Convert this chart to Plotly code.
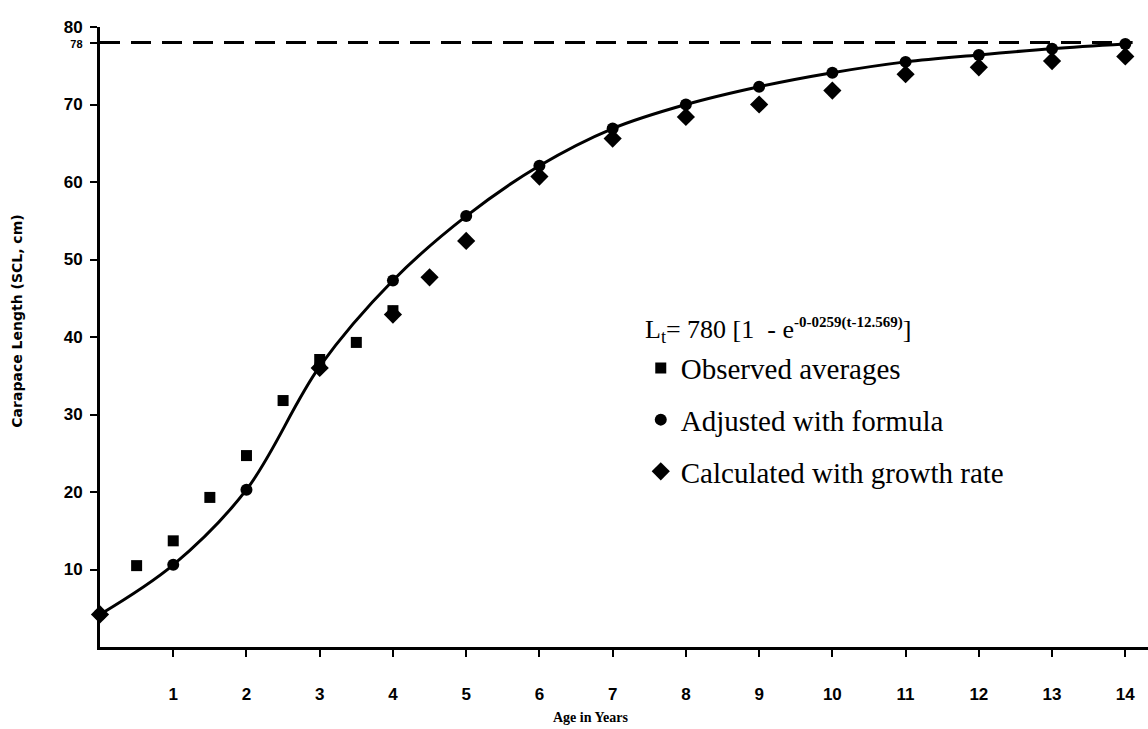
import plotly.graph_objects as go

# Age (years) and carapace length (SCL, cm)
age_obs = [0.5, 1, 1.5, 2, 2.5, 3, 3.5, 4]
len_obs = [10.5, 13.7, 19.3, 24.7, 31.8, 37.1, 39.3, 43.4]

age_fit = [0, 1, 2, 3, 4, 5, 6, 7, 8, 9, 10, 11, 12, 13, 14]
len_fit = [4.2, 10.6, 20.3, 36.2, 47.3, 55.6, 62.1, 66.9, 70.0, 72.3, 74.1, 75.5, 76.4, 77.2, 77.8]

age_calc = [0, 3, 4, 4.5, 5, 6, 7, 8, 9, 10, 11, 12, 13, 14]
len_calc = [4.2, 36.0, 42.9, 47.7, 52.4, 60.7, 65.6, 68.4, 70.0, 71.8, 73.9, 74.8, 75.6, 76.2]

# Asymptotic length L-infinity (cm) and the span it is drawn over
l_inf = 78
asym_span = [0, 14.1]

x_ticks = list(range(1, 15))
y_ticks = [10, 20, 30, 40, 50, 60, 70, 78, 80]
y_ticktext = ["10", "20", "30", "40", "50", "60", "70",
              "<span style='font-size:11px'>78</span>", "80"]

growth_formula = ("L<sub>t</sub>= 780 [1  - e<sup><b><span style='font-size:15px'>"
                  "-0-0259(t-12.569)</span></b></sup>]")

fig = go.Figure()

# von Bertalanffy curve through the fitted lengths
fig.add_trace(go.Scatter(
    x=age_fit, y=len_fit, mode="lines", line=dict(color="black", width=3, shape="spline"),
    showlegend=False, hoverinfo="skip", cliponaxis=False))

# asymptote
fig.add_trace(go.Scatter(
    x=asym_span, y=[l_inf, l_inf], mode="lines",
    line=dict(color="black", width=3, dash="20px,11px"),
    showlegend=False, hoverinfo="skip", cliponaxis=False))

fig.add_trace(go.Scatter(
    x=age_obs, y=len_obs, mode="markers", name="Observed averages",
    legendgroup="a",
    marker=dict(symbol="square", size=11, color="black"), cliponaxis=False))
fig.add_trace(go.Scatter(
    x=age_fit, y=len_fit, mode="markers", name="Adjusted with formula",
    legendgroup="b",
    marker=dict(symbol="circle", size=12, color="black"), cliponaxis=False))
fig.add_trace(go.Scatter(
    x=age_calc, y=len_calc, mode="markers", name="Calculated with growth rate",
    legendgroup="c",
    marker=dict(symbol="diamond", size=14, color="black"), cliponaxis=False))

tick_font = dict(family="Liberation Sans", size=17, color="black", weight="bold")

fig.update_layout(
    width=1148, height=729,
    margin=dict(l=100, r=0, t=27, b=82),
    paper_bgcolor="white", plot_bgcolor="white",
    showlegend=True,
    legend=dict(
        x=0.516, y=0.491, xanchor="left", yanchor="top",
        bgcolor="rgba(0,0,0,0)", traceorder="grouped", tracegroupgap=11,
        font=dict(family="Liberation Serif", size=29, color="black"),
    ),
    xaxis=dict(
        range=[0, 14.31], showgrid=False, zeroline=False,
        showline=True, linecolor="black", linewidth=3,
        ticks="outside", ticklen=7, tickwidth=2, tickcolor="black",
        tickvals=x_ticks, ticktext=[str(v) for v in x_ticks],
        tickfont=tick_font, ticklabelstandoff=23,
    ),
    yaxis=dict(
        range=[0, 80], showgrid=False, zeroline=False,
        showline=True, linecolor="black", linewidth=3,
        ticks="outside", ticklen=7, tickwidth=2, tickcolor="black",
        tickvals=y_ticks, ticktext=y_ticktext,
        tickfont=tick_font, ticklabelstandoff=4,
    ),
    annotations=[
        dict(text=growth_formula, xref="paper", yref="paper",
             x=0.518, y=0.510, xanchor="left", yanchor="middle", showarrow=False,
             font=dict(family="Liberation Serif", size=26, color="black")),
        dict(text="<b>Age in Years</b>", xref="paper", yref="paper",
             x=0.468, y=-0.113, xanchor="center", yanchor="middle", showarrow=False,
             font=dict(family="Liberation Serif", size=14, color="black")),
        dict(text="<b>Carapace Length (SCL, cm)</b>", xref="paper", yref="paper",
             x=-0.080, y=0.525, xanchor="center", yanchor="middle", showarrow=False,
             textangle=-90,
             font=dict(family="DejaVu Sans", size=14, color="black")),
    ],
)

fig.write_html("out.html")
